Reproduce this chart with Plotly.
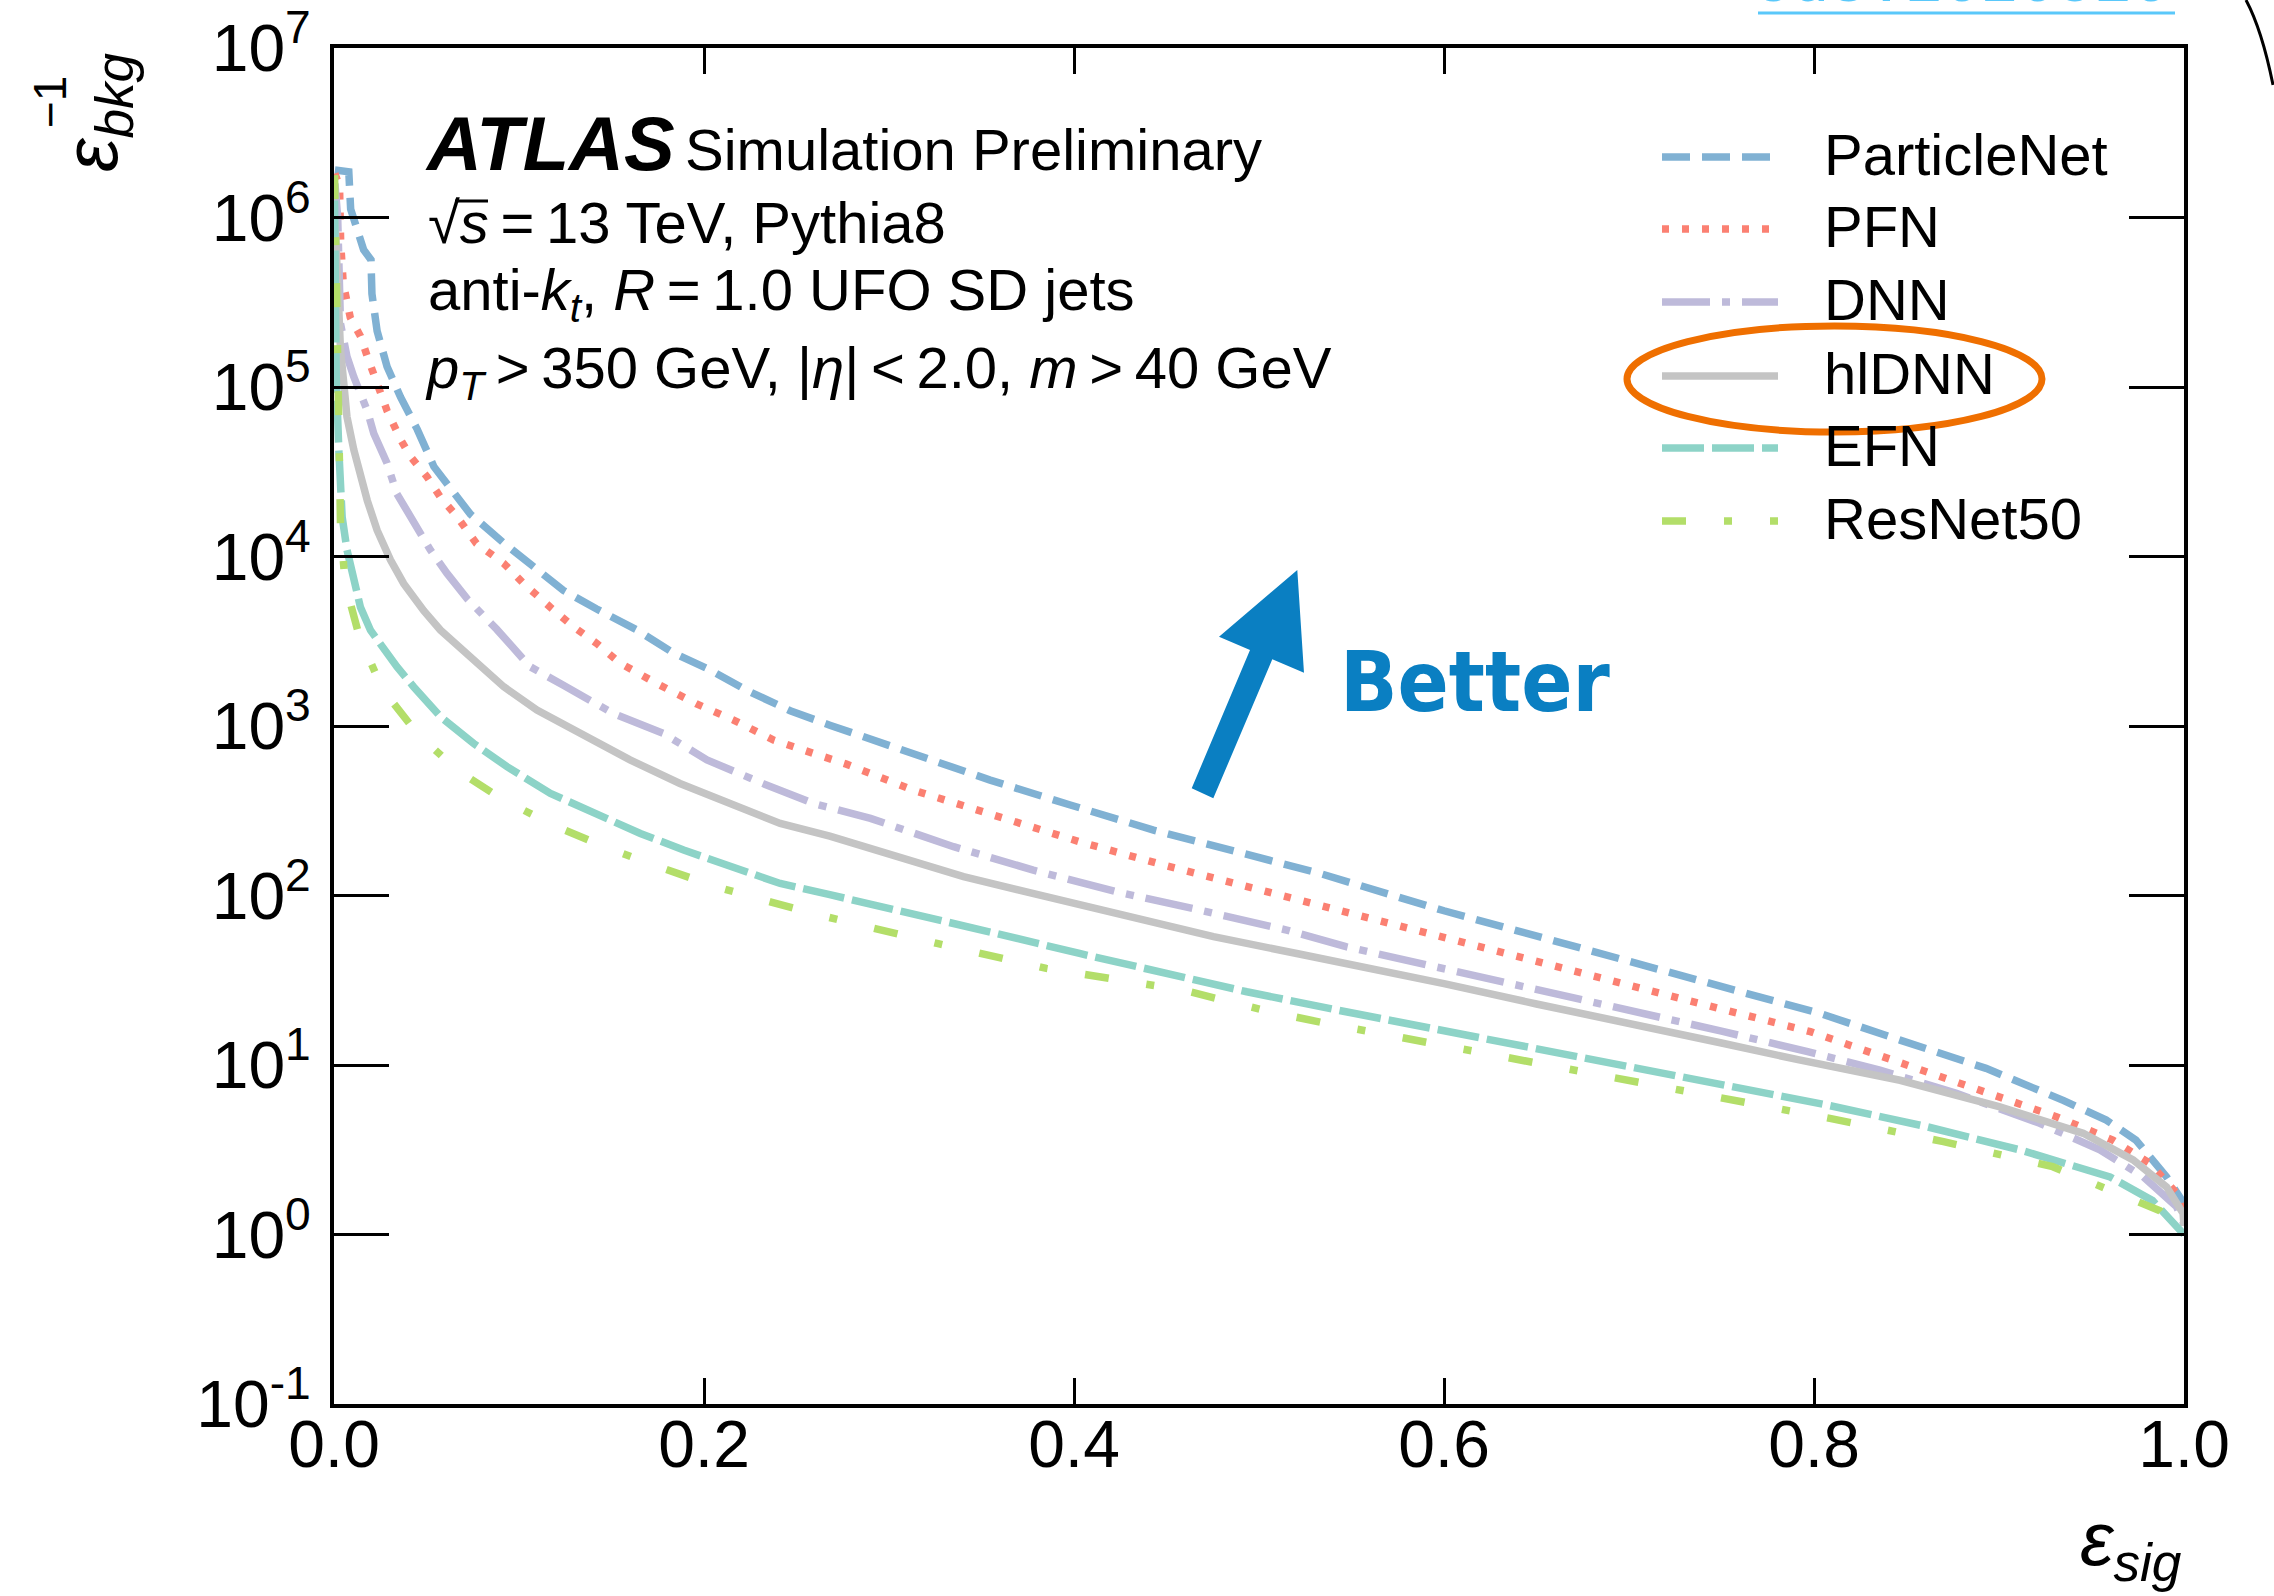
import numpy as np
import plotly.graph_objects as go

W, H = 2274, 1596
L, R, T, B = 334, 2184, 48, 1404


def px(x):
    return (x - L) / (R - L)


def py(y):
    return (B - y) / (B - T)


FONT = "Liberation Sans, Arial, Helvetica, sans-serif"
TS = "\u2009"  # thin space

# ---------------- data (signal efficiency vs log10 of 1/bkg efficiency) ----------------
names = ["ParticleNet", "PFN", "DNN", "hlDNN", "EFN", "ResNet50"]
colors = ["#80b1d3", "#fb8072", "#bebada", "#c4c4c4", "#8dd3c7", "#b3de69"]
dashes = ["28px,12px", "7px,13px", "48px,12px,8px,12px", "solid", "42px,8px", "24px,38px,8px,38px"]

eps_particlenet = [0.0005, 0.008, 0.009, 0.0125, 0.016, 0.020, 0.0205, 0.0233, 0.0287, 0.036, 0.045,
                   0.054, 0.063, 0.0737, 0.0917, 0.106, 0.124, 0.142, 0.1638, 0.1836, 0.2034, 0.2232,
                   0.2466, 0.268, 0.3097, 0.3547, 0.398, 0.443, 0.488, 0.533, 0.6, 0.65, 0.7, 0.75,
                   0.803, 0.8465, 0.893, 0.935, 0.958, 0.974, 0.9906, 0.9995, 1.0]
log_particlenet = [6.28, 6.27, 6.05, 5.93, 5.81, 5.75, 5.55, 5.33, 5.12, 4.94, 4.75,
                   4.53, 4.41, 4.25, 4.08, 3.96, 3.80, 3.69, 3.566, 3.43, 3.33, 3.21,
                   3.09, 3.005, 2.848, 2.681, 2.534, 2.386, 2.258, 2.13, 1.91, 1.76, 1.61, 1.46,
                   1.305, 1.147, 0.98, 0.79, 0.675, 0.557, 0.34, 0.19, 0.12]

eps_pfn = [0.0005, 0.003, 0.0036, 0.005, 0.0088, 0.0143, 0.018, 0.0233, 0.0287, 0.036, 0.0413,
           0.0503, 0.0575, 0.0665, 0.077, 0.0917, 0.1025, 0.117, 0.1295, 0.142, 0.1548, 0.1746,
           0.196, 0.216, 0.2376, 0.2592, 0.277, 0.313, 0.358, 0.403, 0.4484, 0.4934, 0.5384,
           0.6, 0.65, 0.7, 0.75, 0.798, 0.843, 0.888, 0.931, 0.9615, 0.9815, 0.9977, 1.0]
log_pfn = [6.26, 6.18, 5.85, 5.61, 5.41, 5.30, 5.18, 5.02, 4.86, 4.69, 4.59,
           4.47, 4.35, 4.235, 4.077, 3.96, 3.84, 3.70, 3.585, 3.487, 3.37, 3.25,
           3.13, 3.035, 2.917, 2.838, 2.775, 2.622, 2.465, 2.317, 2.18, 2.052, 1.924,
           1.75, 1.61, 1.47, 1.33, 1.197, 1.03, 0.853, 0.695, 0.557, 0.42, 0.223, 0.1]

eps_dnn = [0.0005, 0.002, 0.0035, 0.007, 0.0107, 0.018, 0.0215, 0.0287, 0.034, 0.043, 0.052,
           0.0611, 0.072, 0.088, 0.106, 0.124, 0.151, 0.178, 0.2016, 0.232, 0.2592, 0.29,
           0.3349, 0.378, 0.423, 0.468, 0.515, 0.547, 0.6, 0.65, 0.7, 0.75, 0.796, 0.8356,
           0.877, 0.922, 0.9545, 0.978, 0.996, 1.0]
log_dnn = [6.2, 6.0, 5.375, 5.18, 5.06, 4.86, 4.726, 4.55, 4.37, 4.195, 4.04,
           3.90, 3.75, 3.57, 3.35, 3.24, 3.074, 2.956, 2.80, 2.66, 2.543, 2.455,
           2.288, 2.15, 2.022, 1.914, 1.796, 1.698, 1.57, 1.44, 1.32, 1.20, 1.08, 0.97,
           0.833, 0.656, 0.50, 0.34, 0.164, 0.06]

eps_hldnn = [0.0005, 0.0026, 0.0035, 0.0053, 0.007, 0.0107, 0.0143, 0.018, 0.0233, 0.0305, 0.0377,
             0.0485, 0.0575, 0.0737, 0.0917, 0.1097, 0.1331, 0.160, 0.187, 0.214, 0.2412, 0.268,
             0.3043, 0.3403, 0.385, 0.4304, 0.4754, 0.5204, 0.547, 0.6, 0.65, 0.7, 0.75, 0.792,
             0.8465, 0.900, 0.9455, 0.9725, 0.9906, 0.9995, 1.0]
log_hldnn = [6.0, 5.45, 5.22, 5.02, 4.825, 4.63, 4.47, 4.33, 4.155, 3.98, 3.84,
             3.68, 3.566, 3.41, 3.232, 3.094, 2.956, 2.80, 2.661, 2.543, 2.425, 2.35,
             2.229, 2.111, 1.993, 1.875, 1.757, 1.658, 1.60, 1.48, 1.36, 1.25, 1.13, 1.03,
             0.91, 0.754, 0.597, 0.44, 0.28, 0.125, 0.05]

eps_efn = [0.0003, 0.0012, 0.0026, 0.0044, 0.007, 0.0107, 0.0143, 0.0197, 0.025, 0.034, 0.043,
           0.0575, 0.0755, 0.0935, 0.117, 0.142, 0.1656, 0.189, 0.214, 0.2412, 0.268, 0.313,
           0.358, 0.403, 0.4484, 0.4934, 0.547, 0.6, 0.65, 0.7, 0.75, 0.807, 0.861, 0.911,
           0.96, 0.983, 1.0]
log_efn = [6.1, 5.06, 4.63, 4.235, 4.04, 3.84, 3.70, 3.565, 3.48, 3.35, 3.232,
           3.055, 2.897, 2.76, 2.602, 2.484, 2.366, 2.268, 2.17, 2.071, 2.005, 1.894,
           1.776, 1.658, 1.54, 1.432, 1.314, 1.20, 1.10, 0.99, 0.88, 0.764, 0.636, 0.50,
           0.34, 0.20, 0.0]

eps_resnet50 = [0.0003, 0.002, 0.0035, 0.006, 0.0134, 0.026, 0.045, 0.0665, 0.0917, 0.1205, 0.1485,
                0.178, 0.207, 0.2358, 0.2664, 0.326, 0.385, 0.4589, 0.506, 0.5366, 0.6, 0.65,
                0.7, 0.75, 0.8086, 0.87, 0.929, 0.987, 1.0]
log_resnet50 = [6.25, 5.0, 4.195, 3.84, 3.54, 3.22, 2.956, 2.74, 2.563, 2.405, 2.278,
                2.16, 2.05, 1.963, 1.874, 1.717, 1.57, 1.442, 1.314, 1.245, 1.115, 1.01,
                0.91, 0.81, 0.685, 0.548, 0.40, 0.14, 0.0]

series_eps = [eps_particlenet, eps_pfn, eps_dnn, eps_hldnn, eps_efn, eps_resnet50]
series_log = [log_particlenet, log_pfn, log_dnn, log_hldnn, log_efn, log_resnet50]

x_tickvals = [0.0, 0.2, 0.4, 0.6, 0.8, 1.0]
x_ticktext = ["0.0", "0.2", "0.4", "0.6", "0.8", "1.0"]
y_tickvals = [1e-1, 1e0, 1e1, 1e2, 1e3, 1e4, 1e5, 1e6, 1e7]
y_ticktext = ["10<sup>-1</sup>", "10<sup>0</sup>", "10<sup>1</sup>", "10<sup>2</sup>", "10<sup>3</sup>",
              "10<sup>4</sup>", "10<sup>5</sup>", "10<sup>6</sup>", "10<sup>7</sup>"]

info_lines = ["√<i>s</i>" + TS + "=" + TS + "13 TeV, Pythia8",
              "anti-<i>k</i><sub><i>t</i></sub>, <i>R</i>" + TS + "=" + TS + "1.0 UFO SD jets",
              "<i>p</i><sub><i>T</i></sub>" + TS + "&gt;" + TS + "350 GeV, |<i>η</i>|" + TS + "&lt;" + TS
              + "2.0, <i>m</i>" + TS + "&gt;" + TS + "40 GeV"]

# ---------------- figure ----------------
fig = go.Figure()
for name, col, dsh, ex, lg in zip(names, colors, dashes, series_eps, series_log):
    fig.add_trace(go.Scatter(x=ex, y=np.power(10.0, np.array(lg)), mode="lines", name=name,
                             line=dict(color=col, width=7.5, dash=dsh), showlegend=False))

annotations = []
shapes = []

# ATLAS label block
annotations.append(dict(text="<b><i>ATLAS</i></b>", x=px(423), y=py(143), xanchor="left", yanchor="middle",
                        font=dict(size=76, family=FONT, color="black")))
annotations.append(dict(text="Simulation Preliminary", x=px(683), y=py(149), xanchor="left", yanchor="middle",
                        font=dict(size=58, family=FONT, color="black")))
for txt, yy, xx in zip(info_lines, [223, 294, 372], [426, 426, 423]):
    annotations.append(dict(text=txt, x=px(xx), y=py(yy), xanchor="left", yanchor="middle",
                            font=dict(size=58, family=FONT, color="black")))
# vinculum of the square root
shapes.append(dict(type="line", xref="paper", yref="paper", x0=px(455), x1=px(488), y0=py(201), y1=py(201),
                   line=dict(color="black", width=3)))

# manual legend
legend_rows = [157, 229, 302, 376, 448, 521]
for name, col, dsh, ry in zip(names, colors, dashes, legend_rows):
    shapes.append(dict(type="line", xref="paper", yref="paper", x0=px(1662), x1=px(1778),
                       y0=py(ry), y1=py(ry), line=dict(color=col, width=7.5, dash=dsh)))
    annotations.append(dict(text=name, x=px(1822), y=py(ry - 3), xanchor="left", yanchor="middle",
                            font=dict(size=58, family=FONT, color="black")))

# orange hand-drawn ellipse around hlDNN
shapes.append(dict(type="circle", xref="paper", yref="paper", x0=px(1627), x1=px(2042),
                   y0=py(432), y1=py(326), line=dict(color="#ef6f00", width=7)))

# "Better" arrow
arrow_pts = [(1191.7, 788.3), (1250, 650), (1219, 636.7), (1297.3, 570), (1304, 672.7),
             (1272.3, 659.3), (1213.3, 798.3)]
path = "M " + " L ".join(f"{px(a):.5f},{py(b):.5f}" for a, b in arrow_pts) + " Z"
shapes.append(dict(type="path", xref="paper", yref="paper", path=path, fillcolor="#0a7fc2",
                   line=dict(width=0)))
annotations.append(dict(text="<b>Better</b>", x=px(1475), y=py(682), xanchor="center", yanchor="middle",
                        font=dict(size=84, family="DejaVu Sans Condensed, DejaVu Sans", color="#0a7fc2")))

# axis titles
annotations.append(dict(text="<i>ε</i><sub><i>sig</i></sub>", x=px(2184), y=py(1594), xanchor="right",
                        yanchor="bottom", font=dict(size=76, family=FONT, color="black")))
annotations.append(dict(text="<i>ε</i><sub><i>bkg</i></sub>", x=px(96), y=py(50), xanchor="center",
                        yanchor="top", textangle=-90, font=dict(size=76, family=FONT, color="black")))
annotations.append(dict(text="−1", x=px(50), y=py(102), xanchor="center", yanchor="middle",
                        textangle=-90, font=dict(size=46, family=FONT, color="black")))

# cropped link text at top
annotations.append(dict(text="cds:2020520", x=px(1752), y=py(22), xanchor="left", yanchor="bottom",
                        font=dict(size=63, family="Liberation Mono, DejaVu Sans Mono", color="#5ac8fa")))
shapes.append(dict(type="line", xref="paper", yref="paper", x0=px(1758), x1=px(2175), y0=py(13), y1=py(13),
                   line=dict(color="#5ac8fa", width=3)))
# black arc at the top right corner
shapes.append(dict(type="path", xref="paper", yref="paper",
                   path=f"M {px(2246):.5f},{py(0):.5f} Q {px(2262):.5f},{py(30):.5f} {px(2273):.5f},{py(85):.5f}",
                   line=dict(color="black", width=3)))

for a in annotations:
    a.setdefault("xref", "paper")
    a.setdefault("yref", "paper")
    a["showarrow"] = False

axis_common = dict(showline=True, linewidth=4, linecolor="black", mirror="ticks", ticks="inside",
                   tickwidth=3, tickcolor="black", showgrid=False, zeroline=False, automargin=False,
                   tickfont=dict(size=66, family=FONT, color="black"))

fig.update_layout(
    width=W, height=H, autosize=False,
    margin=dict(l=L, r=W - R, t=T, b=H - B, autoexpand=False),
    paper_bgcolor="white", plot_bgcolor="white",
    showlegend=False,
    xaxis=dict(range=[0, 1], tickvals=x_tickvals, ticktext=x_ticktext, ticklen=26,
               ticklabelstandoff=-20, **axis_common),
    yaxis=dict(type="log", range=[-1, 7], tickvals=y_tickvals, ticktext=y_ticktext, ticklen=55,
               ticklabelstandoff=6, **axis_common),
    annotations=annotations,
    shapes=shapes,
)

fig.write_html("out.html", config={"displayModeBar": False},
               post_script="document.body.style.margin='0px';")
